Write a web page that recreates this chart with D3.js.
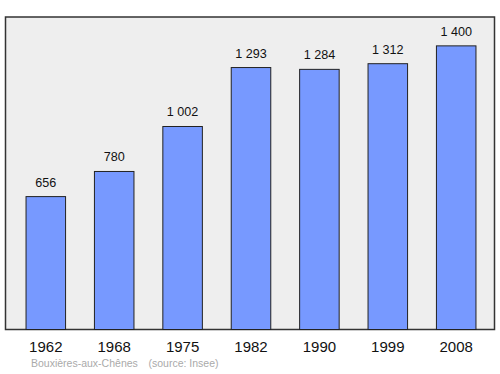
<!DOCTYPE html>
<html><head><meta charset="utf-8">
<script src="https://cdn.jsdelivr.net/npm/d3@7"></script>
<style>body{margin:0;background:#fff}svg{display:block}</style>
</head><body>
<script>
const years = ["1962","1968","1975","1982","1990","1999","2008"];
const population = [656, 780, 1002, 1293, 1284, 1312, 1400];
const valueLabels = ["656","780","1 002","1 293","1 284","1 312","1 400"];
const caption = ["Bouxières-aux-Chênes", "(source: Insee)"];

const W = 500, H = 374;
const svg = d3.select("body").append("svg").attr("width", W).attr("height", H)
  .style("font-family", "'Liberation Sans', Arial, sans-serif");

const plot = {left: 5.5, top: 17, right: 494.5, bottom: 329.5};
svg.append("rect").attr("x", plot.left).attr("y", plot.top)
  .attr("width", plot.right - plot.left).attr("height", plot.bottom - plot.top)
  .attr("fill", "#eeeeee").attr("stroke", "#333").attr("stroke-width", 1.5);

const x = d3.scaleBand().domain(years).range([11.6, 490.4]).paddingInner(0.422).paddingOuter(0.211);
const y = d3.scaleLinear().domain([0, 1540]).range([329.5, 17.5]);

const g = svg.append("g");
g.selectAll("rect.bar").data(population).join("rect").attr("class","bar")
  .attr("x", (d,i) => x(years[i])).attr("width", x.bandwidth())
  .attr("y", d => y(d)).attr("height", d => y(0) - y(d))
  .attr("fill", "#7799ff").attr("stroke", "#222").attr("stroke-width", 1);

g.selectAll("text.val").data(population).join("text").attr("class","val")
  .attr("x", (d,i) => x(years[i]) + x.bandwidth()/2).attr("y", d => y(d) - 10)
  .attr("text-anchor","middle").attr("font-size", 12.6).attr("fill","#111")
  .text((d,i) => valueLabels[i]);

const xAxis = svg.append("g").attr("transform", `translate(0,${plot.bottom})`)
  .call(d3.axisBottom(x).tickSize(0).tickPadding(12.3));
xAxis.select(".domain").remove();
xAxis.selectAll("text").attr("font-size", 15).attr("fill","#111")
  .style("font-family", "'Liberation Sans', Arial, sans-serif");

svg.append("text").attr("x", 31).attr("y", 367).attr("font-size", 10.5).attr("fill","#aaa").text(caption[0]);
svg.append("text").attr("x", 148.5).attr("y", 367).attr("font-size", 10.5).attr("fill","#aaa").text(caption[1]);
</script>
</body></html>
